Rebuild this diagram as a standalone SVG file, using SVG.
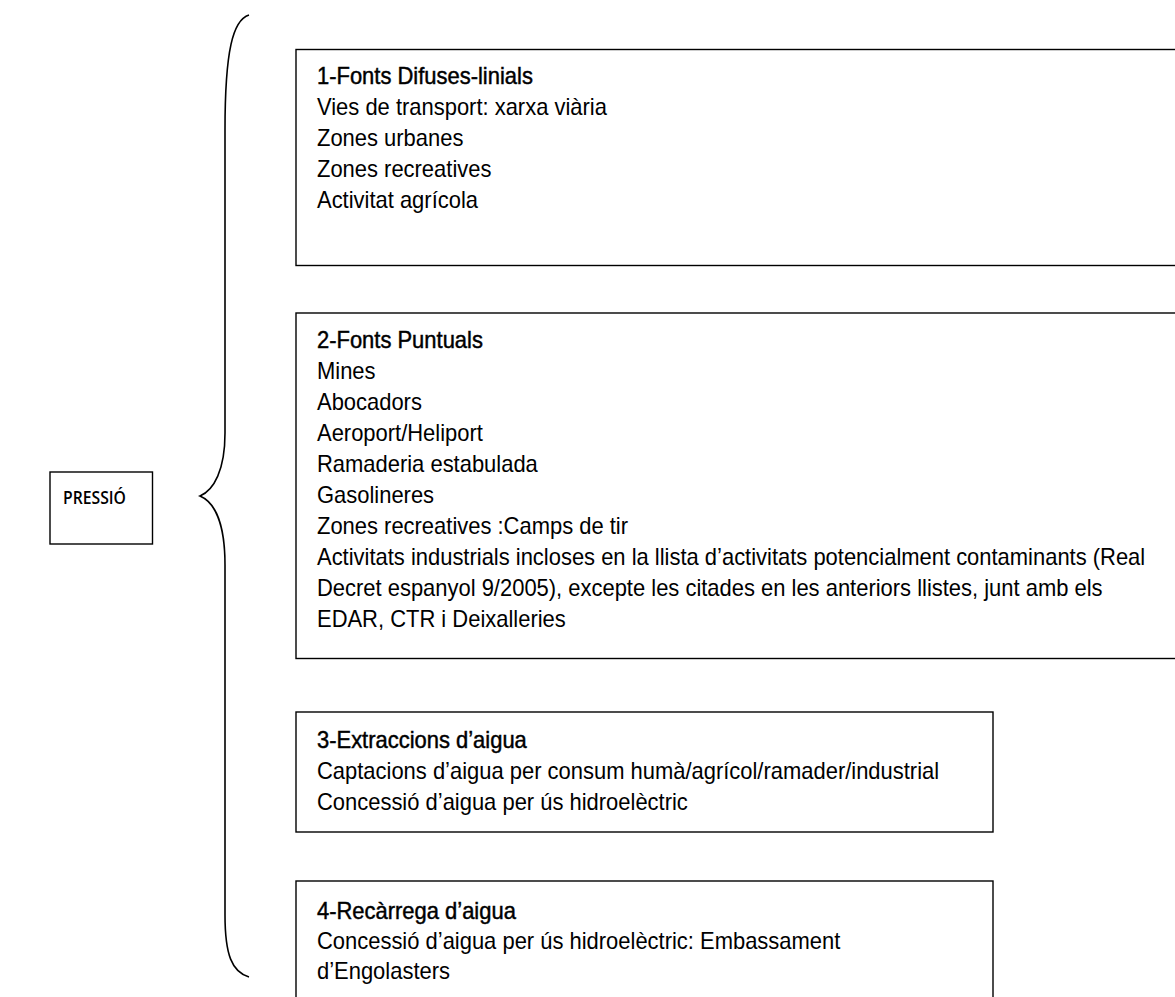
<svg xmlns="http://www.w3.org/2000/svg" width="1175" height="997" viewBox="0 0 1175 997">
<style>
.box{fill:none;stroke:#000;stroke-width:1.4}
.t{font-family:"Liberation Sans",Arial,sans-serif;font-size:23px;fill:#000}
.h{font-family:"Liberation Sans",Arial,sans-serif;font-size:23px;fill:#000;stroke:#000;stroke-width:0.45}
.p{font-family:"Open Sans","Noto Sans",sans-serif;font-size:18.5px;font-weight:600;fill:#000}
.brace{fill:none;stroke:#000;stroke-width:1.6}
</style>
<rect width="1175" height="997" fill="#fff"/>
<g id="pressio">
<rect class="box" x="50" y="472" width="102.5" height="72"/>
<text class="p" x="126" y="504.5" text-anchor="end" transform="matrix(0.85,0,0,1,18.9,0)">PRESSIÓ</text>
</g>
<g id="connectors">
<path class="brace" d="M249,15 C233,20 225,50 225,130 L225,433 C225,470 214,490 200,496 C214,502 225,522 225,565 L225,915 C225,955 232,972 249,977"/>
</g>
<g id="box1">
<rect class="box" x="296" y="49.5" width="920" height="216"/>
<g transform="matrix(0.955,0,0,1,14.265,0)">
<text class="h" x="317" y="84">1-Fonts Difuses-linials</text>
<text class="t" x="317" y="115">Vies de transport: xarxa viària</text>
<text class="t" x="317" y="146">Zones urbanes</text>
<text class="t" x="317" y="177">Zones recreatives</text>
<text class="t" x="317" y="208">Activitat agrícola</text>
</g>
</g>
<g id="box2">
<rect class="box" x="296" y="313" width="920" height="345.5"/>
<g transform="matrix(0.955,0,0,1,14.265,0)">
<text class="h" x="317" y="348">2-Fonts Puntuals</text>
<text class="t" x="317" y="379">Mines</text>
<text class="t" x="317" y="410">Abocadors</text>
<text class="t" x="317" y="441">Aeroport/Heliport</text>
<text class="t" x="317" y="472">Ramaderia estabulada</text>
<text class="t" x="317" y="503">Gasolineres</text>
<text class="t" x="317" y="534">Zones recreatives :Camps de tir</text>
<text class="t" x="317" y="565">Activitats industrials incloses en la llista d’activitats potencialment contaminants (Real</text>
<text class="t" x="317" y="596">Decret espanyol 9/2005), excepte les citades en les anteriors llistes, junt amb els</text>
<text class="t" x="317" y="627">EDAR, CTR i Deixalleries</text>
</g>
</g>
<g id="box3">
<rect class="box" x="296" y="712" width="697" height="120"/>
<g transform="matrix(0.955,0,0,1,14.265,0)">
<text class="h" x="317" y="748">3-Extraccions d’aigua</text>
<text class="t" x="317" y="779">Captacions d’aigua per consum humà/agrícol/ramader/industrial</text>
<text class="t" x="317" y="810">Concessió d’aigua per ús hidroelèctric</text>
</g>
</g>
<g id="box4">
<rect class="box" x="296" y="881" width="697" height="140"/>
<g transform="matrix(0.955,0,0,1,14.265,0)">
<text class="h" x="317" y="919">4-Recàrrega d’aigua</text>
<text class="t" x="317" y="949">Concessió d’aigua per ús hidroelèctric: Embassament</text>
<text class="t" x="317" y="979">d’Engolasters</text>
</g>
</g>
</svg>
